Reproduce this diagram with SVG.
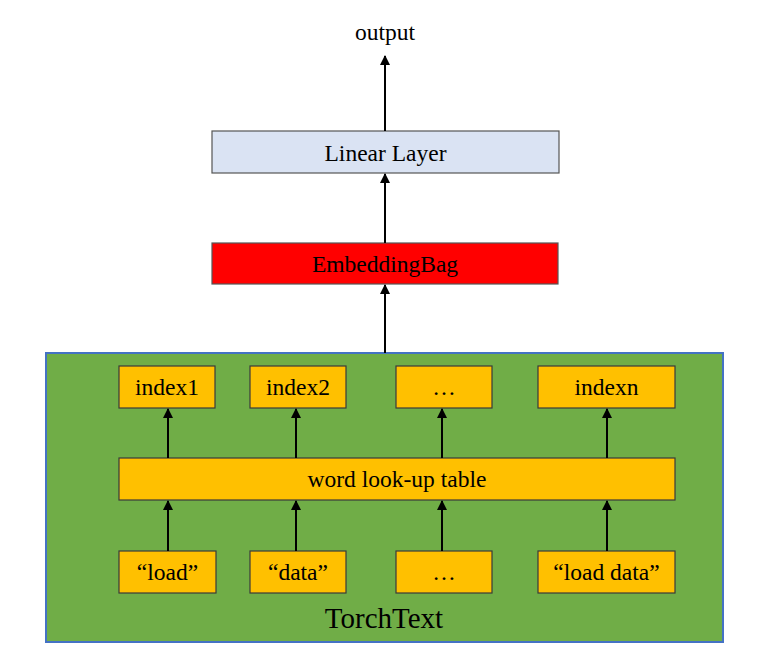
<svg xmlns="http://www.w3.org/2000/svg" width="769" height="659" viewBox="0 0 769 659">
<style>
text{font-family:"Liberation Serif","Times New Roman",serif;font-size:23.5px;fill:#000;text-anchor:middle}
.box{fill:#FFC000;stroke:#3a3a3a;stroke-width:1.2}
.conn{stroke:#000;stroke-width:2;fill:none;marker-end:url(#ah)}
</style>
<defs>
<marker id="ah" viewBox="0 0 10 10" refX="9" refY="5" markerWidth="5" markerHeight="5" orient="auto" markerUnits="strokeWidth">
<path d="M0,0 L10,5 L0,10 z" fill="#000"/>
</marker>
</defs>
<rect width="769" height="659" fill="#fff"/>
<g id="torchtext">
<rect x="46" y="353" width="677" height="289" fill="#70AD47" stroke="#4472C4" stroke-width="2"/>
<text x="384" y="628" style="font-size:29px">TorchText</text>
</g>
<g id="output"><text x="385" y="40">output</text></g>
<g id="linear">
<rect x="212" y="131" width="347" height="42" fill="#DAE3F3" stroke="#555" stroke-width="1.2"/>
<text x="385.5" y="161">Linear Layer</text>
</g>
<g id="embeddingbag">
<rect x="212" y="243" width="346" height="41" fill="#FF0000" stroke="#555" stroke-width="1.2"/>
<text x="385" y="272">EmbeddingBag</text>
</g>
<g id="index1"><rect class="box" x="119" y="366" width="96" height="42"/><text x="167" y="395">index1</text></g>
<g id="index2"><rect class="box" x="250" y="366" width="96" height="42"/><text x="298" y="395">index2</text></g>
<g id="index-dots"><rect class="box" x="396" y="366" width="96" height="42"/><text x="444" y="395">…</text></g>
<g id="indexn"><rect class="box" x="538" y="366" width="137" height="42"/><text x="606.5" y="395">indexn</text></g>
<g id="lookup"><rect class="box" x="119" y="458" width="556" height="42"/><text x="397" y="487">word look-up table</text></g>
<g id="load"><rect class="box" x="119" y="551" width="97" height="42"/><text x="167.5" y="580">“load”</text></g>
<g id="data"><rect class="box" x="250" y="551" width="96" height="42"/><text x="298" y="580">“data”</text></g>
<g id="word-dots"><rect class="box" x="396" y="551" width="96" height="42"/><text x="444" y="580">…</text></g>
<g id="loaddata"><rect class="box" x="538" y="551" width="137" height="42"/><text x="606.5" y="580">“load data”</text></g>
<g id="connectors">
<line class="conn" x1="385" y1="131" x2="385" y2="56"/>
<line class="conn" x1="385" y1="243" x2="385" y2="174"/>
<line class="conn" x1="385" y1="353" x2="385" y2="285"/>
<line class="conn" x1="168" y1="458" x2="168" y2="409"/>
<line class="conn" x1="296" y1="458" x2="296" y2="409"/>
<line class="conn" x1="442" y1="458" x2="442" y2="409"/>
<line class="conn" x1="607" y1="458" x2="607" y2="409"/>
<line class="conn" x1="168" y1="551" x2="168" y2="501"/>
<line class="conn" x1="296" y1="551" x2="296" y2="501"/>
<line class="conn" x1="442" y1="551" x2="442" y2="501"/>
<line class="conn" x1="607" y1="551" x2="607" y2="501"/>
</g>
</svg>
